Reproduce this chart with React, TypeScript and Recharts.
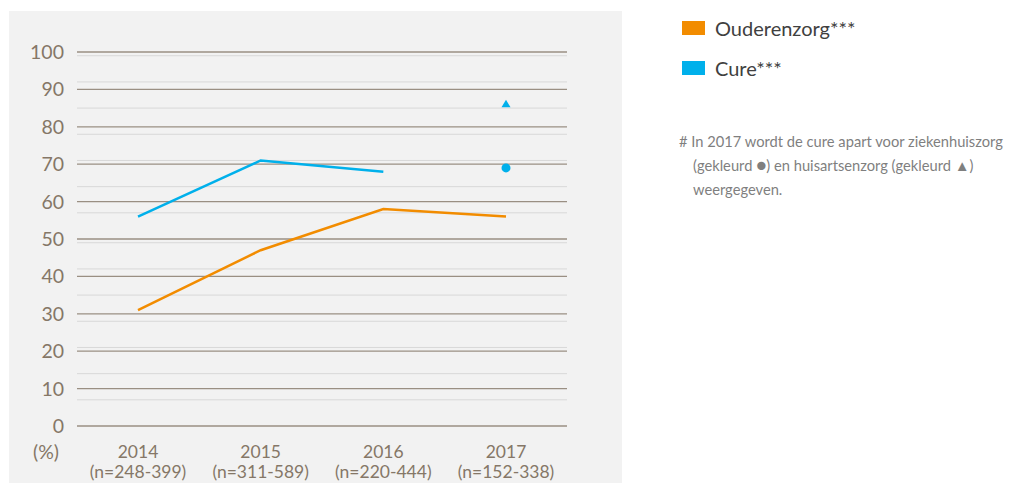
import { LineChart, Line, XAxis, YAxis, CartesianGrid } from 'recharts';

const years = ['2014', '2015', '2016', '2017'];
const sampleSizes = ['(n=248-399)', '(n=311-589)', '(n=220-444)', '(n=152-338)'];
const ouderenzorg = [31, 47, 58, 56];
const cure = [56, 71, 68, null];
const ziekenhuiszorg2017 = [null, null, null, 69];
const huisartsenzorg2017 = [null, null, null, 86];
const yTicks = [0, 10, 20, 30, 40, 50, 60, 70, 80, 90, 100];
const minorTicks = Array.from({ length: 100 }, (_, i) => i).filter((v) => v % 10 !== 0);

const ORANGE = '#f28c00';
const BLUE = '#00b0eb';
const FONT = 'Lato, "Open Sans", sans-serif';

const data = years.map((year, i) => ({
  year,
  n: sampleSizes[i],
  ouderenzorg: ouderenzorg[i],
  cure: cure[i],
  ziekenhuis: ziekenhuiszorg2017[i],
  huisarts: huisartsenzorg2017[i],
}));

const YearTick = (props: any) => {
  const { x, y, payload, index } = props;
  return (
    <text x={x} y={y} textAnchor='middle' fill='#857767' fontSize={17.5} fontFamily={FONT}>
      <tspan x={x} dy={24}>{payload.value}</tspan>
      <tspan x={x} dy={20}>{sampleSizes[index]}</tspan>
    </text>
  );
};

const Triangle = (props: any) => {
  const { cx, cy } = props;
  if (cx == null || cy == null || props.value == null) return null;
  return <path d={`M${cx},${cy - 4.5} L${cx + 4.5},${cy + 3} L${cx - 4.5},${cy + 3} Z`} fill={BLUE} />;
};

const App = () => {
  return (
    <div style={{ position: 'absolute', left: 0, top: 0, width: 1010, height: 483, background: '#fff', fontFamily: FONT }}>
      <div style={{ position: 'absolute', left: 9, top: 11, width: 613, height: 472, background: '#f2f2f2' }} />
      <div style={{ position: 'absolute', left: 0, top: 0 }}>
        <LineChart width={622} height={483} data={data} margin={{ top: 52, right: 55, bottom: 0, left: 17 }}>
          {/* faint stripes at every 1% */}
          <CartesianGrid horizontalValues={minorTicks} vertical={false} stroke='#d8d8d8' strokeWidth={1} />
          <CartesianGrid horizontalValues={yTicks} vertical={false} stroke='#9a8f83' strokeWidth={1.3} />
          <XAxis
            dataKey='year'
            axisLine={false}
            tickLine={false}
            height={57}
            interval={0}
            padding={{ left: 61, right: 61 }}
            tick={<YearTick />}
          />
          <YAxis
            domain={[0, 100]}
            ticks={yTicks}
            width={60}
            axisLine={false}
            tickLine={false}
            tickSize={0}
            tickMargin={13}
            tick={{ fontSize: 19.5, fill: '#857767', fontFamily: FONT }}
          />
          <Line dataKey='ouderenzorg' stroke={ORANGE} strokeWidth={2.5} dot={false} isAnimationActive={false} />
          <Line dataKey='cure' stroke={BLUE} strokeWidth={2.5} dot={false} isAnimationActive={false} />
          <Line
            dataKey='ziekenhuis'
            stroke='none'
            dot={{ r: 4.5, fill: BLUE, stroke: 'none' }}
            isAnimationActive={false}
          />
          <Line dataKey='huisarts' stroke='none' dot={<Triangle />} isAnimationActive={false} />
        </LineChart>
      </div>
      <div style={{ position: 'absolute', left: 33, top: 440, fontSize: 19.5, color: '#857767' }}>(%)</div>
      <div style={{ position: 'absolute', left: 682, top: 16, fontSize: 20, color: '#404040' }}>
        <div style={{ display: 'flex', alignItems: 'center', height: 24 }}>
          <span style={{ width: 23, height: 14, background: ORANGE, marginRight: 10 }} />
          Ouderenzorg***
        </div>
        <div style={{ display: 'flex', alignItems: 'center', height: 24, marginTop: 16 }}>
          <span style={{ width: 23, height: 14, background: BLUE, marginRight: 10 }} />
          Cure***
        </div>
      </div>
      <div style={{ position: 'absolute', left: 679, top: 129, fontSize: 14.7, lineHeight: '24px', color: '#7f7f7f', width: 331, whiteSpace: 'nowrap' }}>
        <div># In 2017 wordt de cure apart voor ziekenhuiszorg</div>
        <div style={{ paddingLeft: 14 }}>
          (gekleurd <span style={{ fontSize: 17 }}>●</span>) en huisartsenzorg (gekleurd <span style={{ fontSize: 15 }}>▲</span>)
        </div>
        <div style={{ paddingLeft: 14 }}>weergegeven.</div>
      </div>
    </div>
  );
};

export default App;
